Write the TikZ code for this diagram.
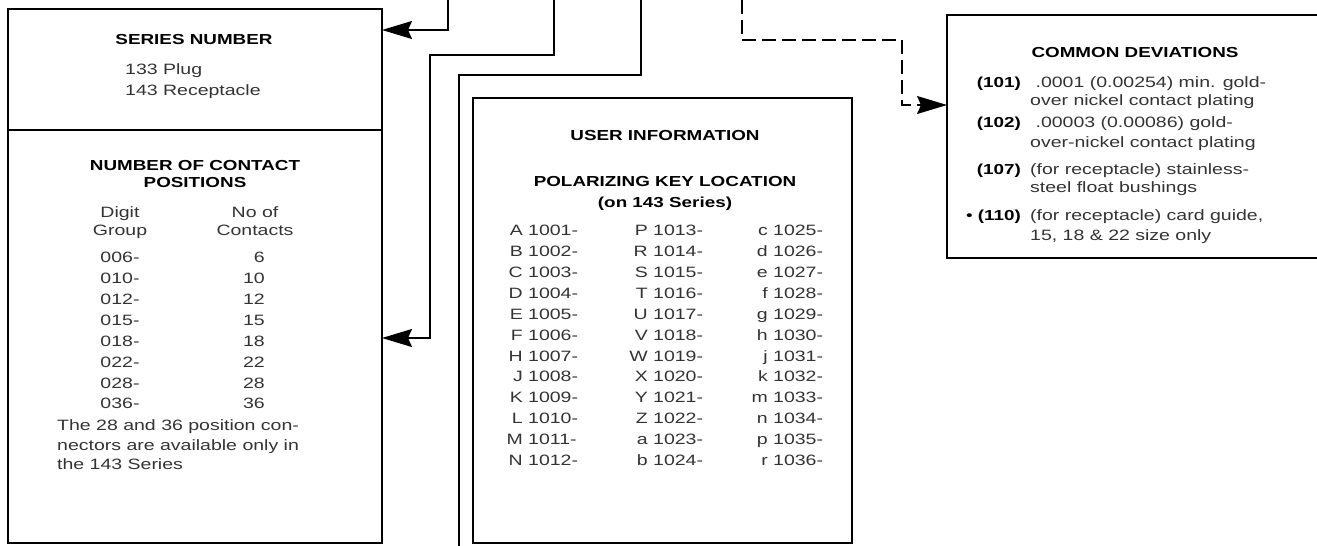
\documentclass[tikz,border=0pt]{standalone}
\usepackage{fontspec}
\setmainfont[FakeStretch=1.3]{Liberation Sans}
\usetikzlibrary{arrows.meta}

\begin{document}
\begin{tikzpicture}[x=1pt,y=-1pt,
  box/.style={draw,line width=1.8pt,inner sep=0pt,outer sep=0pt,anchor=north west},
  lead/.style={line width=1.6pt},
  tip/.style={-{Stealth[length=30pt,width=18pt,inset=4pt]}},
  head/.style={font=\fontsize{14.5}{17}\selectfont\bfseries,inner sep=0pt,anchor=mid},
  txt/.style={font=\fontsize{15}{18}\selectfont,text=black!80,inner sep=0pt,anchor=mid}]
\useasboundingbox (0,0) rectangle (1317,546);

\node[box,minimum width=374pt,minimum height=121pt] (series) at (8,9) {};
\node[box,minimum width=374pt,minimum height=413pt] (contacts) at (8,130) {};
\node[box,minimum width=379pt,minimum height=445pt] (user) at (473,98) {};
\node[box,minimum width=373pt,minimum height=243pt] (devs) at (947,15) {};

\coordinate (s1) at (448,0);
\coordinate (s2) at (554,0);
\coordinate (s3) at (641,0);
\coordinate (s4) at (742,0);
\coordinate (e3) at (459,550);
\draw[lead,tip] (s1) |- (series.east |- 0,30);
\draw[lead,tip] (s2) |- (430,55) |- (contacts.east |- 0,338);
\draw[lead] (s3) |- (e3 |- 0,75) -- (e3);
\draw[lead,tip,dash pattern=on 14pt off 6pt] (s4) |- (902,40) |- (devs.west |- 0,105);

% series number
\node[head] (sertitle) at (194,42) {SERIES NUMBER};
\node[txt,anchor=mid west] (plug) at (125,72) {133 Plug};
\node[txt,anchor=mid west] (recept) at (125,93) {143 Receptacle};

% contact positions
\node[head] (cont1) at (195,168) {NUMBER OF CONTACT};
\node[head] (cont2) at (195,185) {POSITIONS};
\node[txt] (dig1) at (120,215) {Digit};
\node[txt] (dig2) at (120,233) {Group};
\node[txt] (noof1) at (255,215) {No of};
\node[txt] (noof2) at (255,233) {Contacts};
\foreach \g/\n [count=\i from 0] in {006/6,010/10,012/12,015/15,018/18,022/22,028/28,036/36}{
  \node[txt] (grp\i) at (120,260+20.9*\i) {\g-};
  \node[txt,anchor=mid east] (num\i) at (265,260+20.9*\i) {\n};
}
\foreach \t [count=\i from 0] in {The 28 and 36 position con-,nectors are available only in,the 143 Series}
  \node[txt,anchor=mid west] (note\i) at (57,428+19.5*\i) {\t};

% user information
\node[head] (usertitle) at (665,138) {USER INFORMATION};
\node[head] (keytitle) at (665,184) {POLARIZING KEY LOCATION};
\node[head] (keysub) at (665,205) {(on 143 Series)};
\foreach \a/\b [count=\i from 0] in {A/1001,B/1002,C/1003,D/1004,E/1005,F/1006,H/1007,J/1008,K/1009,L/1010,M/1011,N/1012}
  \node[txt,anchor=mid west] (ka\i) at (528,233+20.9*\i) {\llap{\a\ }\b-};
\foreach \a/\b [count=\i from 0] in {P/1013,R/1014,S/1015,T/1016,U/1017,V/1018,W/1019,X/1020,Y/1021,Z/1022,a/1023,b/1024}
  \node[txt,anchor=mid west] (kb\i) at (653,233+20.9*\i) {\llap{\a\ }\b-};
\foreach \a/\b [count=\i from 0] in {c/1025,d/1026,e/1027,f/1028,g/1029,h/1030,j/1031,k/1032,m/1033,n/1034,p/1035,r/1036}
  \node[txt,anchor=mid west] (kc\i) at (773,233+20.9*\i) {\llap{\a\ }\b-};

% common deviations
\node[head] (devtitle) at (1135,55) {COMMON DEVIATIONS};
\foreach \c/\y in {101/85,102/125,107/172}
  \node[head,anchor=mid east] (d\c) at (1021,\y) {(\c)};
\node[head,anchor=mid east] (d110) at (1021,218) {\llap{\mdseries\textbullet\ }(110)};
\foreach \y/\t [count=\i] in {85/{\ .0001 (0.00254) min. gold-},103/over nickel contact plating,
    125/{\ .00003 (0.00086) gold-},145/over-nickel contact plating,
    172/(for receptacle) stainless-,190/steel float bushings,
    218/{(for receptacle) card guide,},238/{15, 18 \& 22 size only}}
  \node[txt,anchor=mid west] (dt\i) at (1030,\y) {\t};
\end{tikzpicture}
\end{document}
